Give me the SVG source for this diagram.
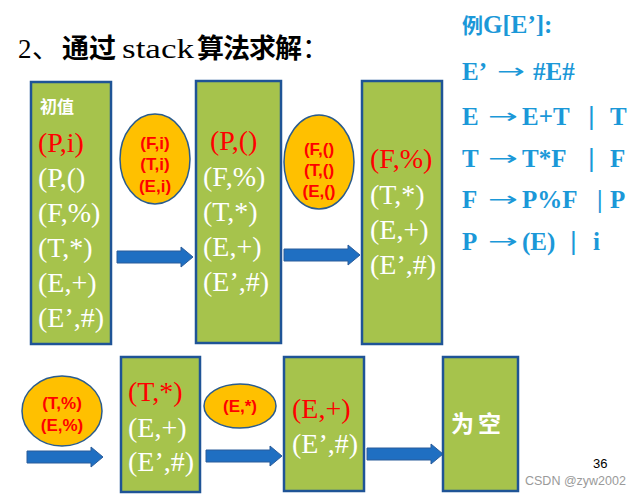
<svg xmlns="http://www.w3.org/2000/svg" width="638" height="497" viewBox="0 0 638 497">
<style>
.box{fill:#A6C34C;stroke:#1F5496;stroke-width:2.5}
.ell{fill:#FFC000;stroke:#2A5C8E;stroke-width:1.5}
.arr{fill:#1F6FC2;stroke:#2A5C9A;stroke-width:1}
.st{font-family:"Liberation Serif","Times New Roman",serif;font-size:28px;fill:#FFFFFF}
.red{fill:#FF0000}
.el{font-family:"Liberation Sans",Arial,sans-serif;font-weight:bold;font-size:17px;fill:#FF0000;text-anchor:middle}
.cn{font-family:"Noto Sans CJK SC",sans-serif;font-weight:bold;fill:#FFFFFF}
.g{font-family:"Liberation Serif","Times New Roman",serif;font-weight:bold;font-size:25px;fill:#1B98D8}
.ga{font-family:"DejaVu Sans",sans-serif;font-size:20px;fill:#1B98D8}
.gb{font-family:"Liberation Sans",sans-serif;font-size:26px;fill:#1B98D8}
.title{font-size:27px;fill:#000000}
</style>
<defs>
<path id="arrow" d="M0,-6 H64 V-10 L76,0 L64,10 V6 H0 Z"/>
</defs>

<g id="title">
<text class="title" y="58"><tspan x="18" font-family="Liberation Serif,serif">2</tspan><tspan x="32" font-family="Noto Sans CJK SC,sans-serif">、</tspan><tspan x="62" font-family="Noto Sans CJK SC,sans-serif" font-weight="bold">通过</tspan><tspan x="122" font-family="Liberation Serif,serif" textLength="72" lengthAdjust="spacingAndGlyphs">stack</tspan><tspan x="197" font-family="Noto Sans CJK SC,sans-serif" font-weight="bold" letter-spacing="-1">算法求解</tspan><tspan x="302" font-family="Noto Sans CJK SC,sans-serif">：</tspan></text>
</g>

<g id="grammar">
<text class="g" x="462" y="33"><tspan font-family="Noto Sans CJK SC,sans-serif" font-size="21">例</tspan>G[E’]:</text>
<text class="g" x="462" y="80">E’</text>
<text class="ga" x="497" y="78" textLength="28" lengthAdjust="spacingAndGlyphs">→</text>
<text class="g" x="533" y="80">#E#</text>

<text class="g" x="462" y="125">E</text>
<text class="ga" x="488" y="123" textLength="30" lengthAdjust="spacingAndGlyphs">→</text>
<text class="g" x="522" y="125">E+T</text>
<text class="gb" x="588" y="125">|</text>
<text class="g" x="610" y="125">T</text>

<text class="g" x="462" y="167">T</text>
<text class="ga" x="488" y="165" textLength="30" lengthAdjust="spacingAndGlyphs">→</text>
<text class="g" x="522" y="167">T*F</text>
<text class="gb" x="588" y="167">|</text>
<text class="g" x="610" y="167">F</text>

<text class="g" x="462" y="208">F</text>
<text class="ga" x="488" y="206" textLength="30" lengthAdjust="spacingAndGlyphs">→</text>
<text class="g" x="522" y="208">P%F</text>
<text class="g" x="597" y="208">|</text>
<text class="g" x="610" y="208">P</text>

<text class="g" x="462" y="250">P</text>
<text class="ga" x="488" y="248" textLength="30" lengthAdjust="spacingAndGlyphs">→</text>
<text class="g" x="522" y="250">(E)</text>
<text class="gb" x="570" y="250">|</text>
<text class="g" x="593" y="250">i</text>
</g>

<g id="connectors">
<use href="#arrow" class="arr" transform="translate(117,257)"/>
<use href="#arrow" class="arr" transform="translate(284,255)"/>
<use href="#arrow" class="arr" transform="translate(27,457)"/>
<use href="#arrow" class="arr" transform="translate(206,456)"/>
<use href="#arrow" class="arr" transform="translate(367,454)"/>
</g>

<g id="box1">
<rect class="box" x="31" y="82" width="80" height="262"/>
<text class="cn" x="40" y="113" font-size="17">初值</text>
<text class="st red" x="38" y="152">(P,i)</text>
<text class="st" x="38" y="187">(P,()</text>
<text class="st" x="38" y="222">(F,%)</text>
<text class="st" x="38" y="257">(T,*)</text>
<text class="st" x="38" y="292">(E,+)</text>
<text class="st" x="38" y="327">(E’,#)</text>
</g>

<g id="ellipse1">
<ellipse class="ell" cx="155" cy="159" rx="35" ry="45"/>
<text class="el" x="155" y="149">(F,i)</text>
<text class="el" x="155" y="170">(T,i)</text>
<text class="el" x="155" y="192">(E,i)</text>
</g>

<g id="box2">
<rect class="box" x="196" y="81" width="85" height="262"/>
<text class="st red" x="210" y="150">(P,()</text>
<text class="st" x="203" y="186">(F,%)</text>
<text class="st" x="203" y="221">(T,*)</text>
<text class="st" x="203" y="256">(E,+)</text>
<text class="st" x="203" y="291">(E’,#)</text>
</g>

<g id="ellipse2">
<ellipse class="ell" cx="319" cy="162" rx="35" ry="47"/>
<text class="el" x="319" y="155">(F,()</text>
<text class="el" x="319" y="176">(T,()</text>
<text class="el" x="319" y="197">(E,()</text>
</g>

<g id="box3">
<rect class="box" x="362" y="81" width="80" height="263"/>
<text class="st red" x="370" y="168">(F,%)</text>
<text class="st" x="370" y="204">(T,*)</text>
<text class="st" x="370" y="239">(E,+)</text>
<text class="st" x="370" y="274">(E’,#)</text>
</g>

<g id="ellipse3">
<ellipse class="ell" cx="62" cy="411" rx="40" ry="35"/>
<text class="el" x="62" y="409" font-size="18">(T,%)</text>
<text class="el" x="62" y="431" font-size="18">(E,%)</text>
</g>

<g id="box4">
<rect class="box" x="121" y="357" width="79" height="135"/>
<text class="st red" x="128" y="401">(T,*)</text>
<text class="st" x="128" y="437">(E,+)</text>
<text class="st" x="128" y="471">(E’,#)</text>
</g>

<g id="ellipse4">
<ellipse class="ell" cx="240" cy="406" rx="36" ry="22"/>
<text class="el" x="240" y="412" font-size="18">(E,*)</text>
</g>

<g id="box5">
<rect class="box" x="284" y="357" width="80" height="134"/>
<text class="st red" x="292" y="418">(E,+)</text>
<text class="st" x="292" y="453">(E’,#)</text>
</g>

<g id="box6">
<rect class="box" x="443" y="357" width="75" height="134"/>
<text class="cn" x="451" y="432" font-size="23" letter-spacing="4">为空</text>
</g>

<g id="footer">
<text x="593" y="468" font-family="Liberation Sans,Arial,sans-serif" font-size="13" fill="#000000">36</text>
<text x="525" y="485" font-family="Liberation Sans,Arial,sans-serif" font-size="12.5" fill="#9A9A9A">CSDN @zyw2002</text>
</g>
</svg>
